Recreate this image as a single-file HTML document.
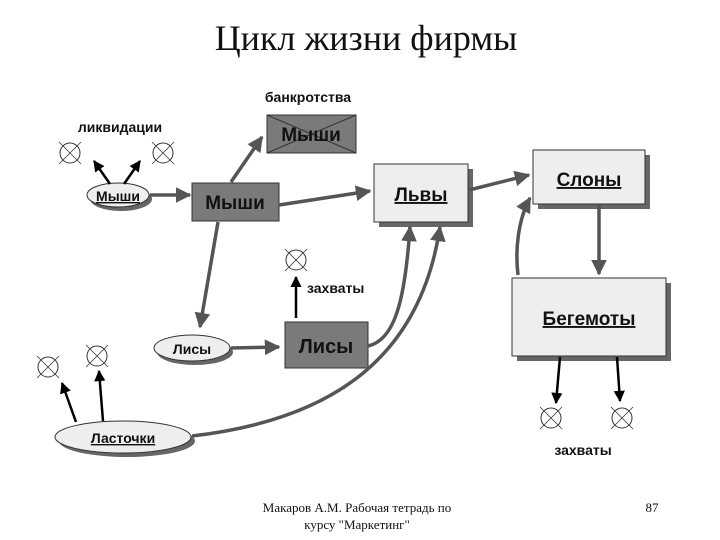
<!DOCTYPE html>
<html><head><meta charset="utf-8"><style>
html,body{margin:0;padding:0;background:#fff;}
svg{display:block;}
.t{font-family:"Liberation Sans",sans-serif;font-weight:bold;fill:#111;}
.s{font-family:"Liberation Serif",serif;fill:#111;}
</style></head><body>
<svg width="720" height="540" viewBox="0 0 720 540" xmlns="http://www.w3.org/2000/svg">
<defs>
<marker id="g" viewBox="0 0 10 10" refX="9" refY="5" markerWidth="4.5" markerHeight="4.5" orient="auto"><path d="M0,0L10,5L0,10z" fill="#555"/></marker>
<marker id="k" viewBox="0 0 10 10" refX="9" refY="5" markerWidth="4.5" markerHeight="4.5" orient="auto"><path d="M0,0L10,5L0,10z" fill="#000"/></marker>
<g id="cx"><circle r="10" fill="none" stroke="#333" stroke-width="1"/><line x1="-11" y1="-11" x2="11" y2="11" stroke="#333" stroke-width="0.8"/><line x1="11" y1="-11" x2="-11" y2="11" stroke="#333" stroke-width="0.8"/></g>
</defs>
<text class="s" x="366" y="50" font-size="36" text-anchor="middle">Цикл жизни фирмы</text>

<text class="t" x="308" y="102" font-size="14" text-anchor="middle">банкротства</text>
<rect x="267" y="115" width="89" height="38" fill="#7a7a7a" stroke="#333"/>
<line x1="267" y1="115" x2="356" y2="153" stroke="#333"/><line x1="356" y1="115" x2="267" y2="153" stroke="#333"/>
<text class="t" x="311" y="141" font-size="19" text-anchor="middle">Мыши</text>

<text class="t" x="120" y="132" font-size="14" text-anchor="middle">ликвидации</text>
<use href="#cx" x="70" y="153"/><use href="#cx" x="163" y="153"/>

<ellipse cx="121" cy="199" rx="31" ry="12" fill="#666"/>
<ellipse cx="118" cy="195" rx="31" ry="12" fill="#eee" stroke="#333"/>
<text class="t" x="118" y="201" font-size="14" text-anchor="middle" text-decoration="underline">Мыши</text>

<rect x="192" y="183" width="87" height="38" fill="#7a7a7a" stroke="#333"/>
<text class="t" x="235" y="209" font-size="19" text-anchor="middle">Мыши</text>

<rect x="379" y="169" width="94" height="58" fill="#666"/>
<rect x="374" y="164" width="94" height="58" fill="#eee" stroke="#333"/>
<text class="t" x="421" y="201" font-size="19" text-anchor="middle" text-decoration="underline">Львы</text>

<rect x="538" y="155" width="112" height="54" fill="#666"/>
<rect x="533" y="150" width="112" height="54" fill="#eee" stroke="#333"/>
<text class="t" x="589" y="186" font-size="19" text-anchor="middle" text-decoration="underline">Слоны</text>

<rect x="517" y="283" width="154" height="78" fill="#666"/>
<rect x="512" y="278" width="154" height="78" fill="#eee" stroke="#333"/>
<text class="t" x="589" y="325" font-size="19" text-anchor="middle" text-decoration="underline">Бегемоты</text>

<use href="#cx" x="296" y="260"/>
<text class="t" x="307" y="293" font-size="14">захваты</text>
<rect x="285" y="322" width="83" height="46" fill="#7a7a7a" stroke="#333"/>
<text class="t" x="326" y="353" font-size="20" text-anchor="middle">Лисы</text>

<ellipse cx="195" cy="352" rx="38" ry="13" fill="#666"/>
<ellipse cx="192" cy="348" rx="38" ry="13" fill="#eee" stroke="#333"/>
<text class="t" x="192" y="354" font-size="14" text-anchor="middle">Лисы</text>

<use href="#cx" x="48" y="367"/><use href="#cx" x="97" y="356"/>
<ellipse cx="127" cy="441" rx="68" ry="16" fill="#666"/>
<ellipse cx="123" cy="437" rx="68" ry="16" fill="#eee" stroke="#333"/>
<text class="t" x="123" y="443" font-size="14" text-anchor="middle" text-decoration="underline">Ласточки</text>

<use href="#cx" x="551" y="418"/><use href="#cx" x="622" y="418"/>
<text class="t" x="583" y="455" font-size="14" text-anchor="middle">захваты</text>

<g stroke="#555" stroke-width="3.5" fill="none" marker-end="url(#g)">
<line x1="150" y1="195" x2="190" y2="195"/>
<line x1="231" y1="182" x2="262" y2="137"/>
<line x1="279" y1="205" x2="370" y2="191"/>
<line x1="469" y1="190" x2="529" y2="175"/>
<line x1="218" y1="222" x2="200" y2="327"/>
<line x1="231" y1="348" x2="279" y2="347"/>
<path d="M368,346 C395,340 405,300 410,227"/>
<path d="M192,436 C330,420 420,360 440,227"/>
<path d="M518,275 C515,250 518,220 530,198"/>
<line x1="599" y1="205" x2="599" y2="274"/>
</g>
<g stroke="#000" stroke-width="2.5" fill="none" marker-end="url(#k)">
<line x1="110" y1="184" x2="94" y2="161"/>
<line x1="124" y1="184" x2="140" y2="161"/>
<line x1="296" y1="318" x2="296" y2="277"/>
<line x1="76" y1="422" x2="62" y2="383"/>
<line x1="103" y1="421" x2="99" y2="371"/>
<line x1="560" y1="357" x2="556" y2="403"/>
<line x1="617" y1="357" x2="620" y2="401"/>
</g>

<text class="s" x="357" y="512" font-size="13" text-anchor="middle">Макаров А.М. Рабочая тетрадь по</text>
<text class="s" x="357" y="529" font-size="13" text-anchor="middle">курсу "Маркетинг"</text>
<text class="s" x="652" y="512" font-size="13" text-anchor="middle">87</text>
</svg>
</body></html>
